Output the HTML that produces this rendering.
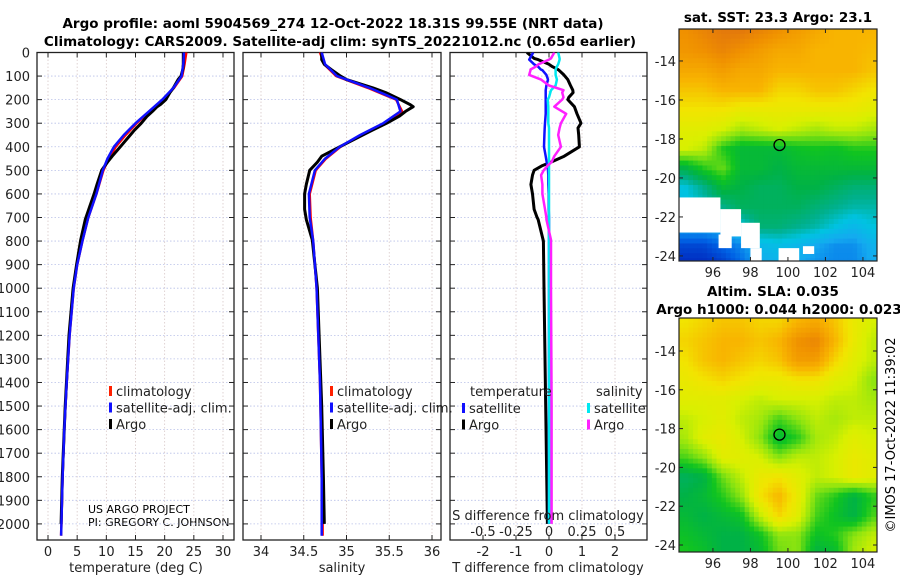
<!DOCTYPE html>
<html><head><meta charset="utf-8">
<style>
html,body{margin:0;padding:0;background:#fff;}
svg{display:block;font-family:"DejaVu Sans","Liberation Sans",sans-serif;}
</style></head>
<body>
<svg id="fig" width="900" height="580" viewBox="0 0 900 580" xmlns="http://www.w3.org/2000/svg">
<text x="333" y="28" font-size="13.5" font-weight="bold" text-anchor="middle">Argo profile: aoml 5904569_274 12-Oct-2022 18.31S 99.55E (NRT data)</text>
<text x="340" y="46" font-size="13.5" font-weight="bold" text-anchor="middle">Climatology: CARS2009. Satellite-adj clim: synTS_20221012.nc (0.65d earlier)</text>
<text x="778" y="22" font-size="13.5" font-weight="bold" text-anchor="middle">sat. SST: 23.3 Argo: 23.1</text>
<text x="773" y="296" font-size="13.5" font-weight="bold" text-anchor="middle">Altim. SLA: 0.035</text>
<text x="779" y="314" font-size="13.5" font-weight="bold" text-anchor="middle">Argo h1000: 0.044 h2000: 0.023</text>
<text transform="translate(895,435) rotate(-90)" font-size="13" text-anchor="middle">©IMOS 17-Oct-2022 11:39:02</text>
<text x="88" y="513" font-size="11">US ARGO PROJECT</text>
<text x="88" y="526" font-size="11">PI: GREGORY C. JOHNSON</text>
<g id="layer"></g>
</svg>
<script>
// ---------- data ----------
const depthClim = [0,50,100,150,200,250,300,350,400,450,500,600,700,800,900,1000,1200,1400,1600,1800,2000,2050];
const tempClim  = [23.7,23.4,23.0,21.6,19.7,17.4,15.2,13.3,11.6,10.4,9.5,8.3,6.9,5.9,5.0,4.4,3.7,3.2,2.8,2.5,2.3,2.25];
const tempSat   = [23.3,23.2,22.9,21.5,19.6,17.3,15.0,13.0,11.3,10.2,9.4,8.3,6.9,5.9,5.0,4.4,3.7,3.2,2.8,2.5,2.3,2.25];
const salClim   = [34.69,34.74,34.88,35.25,35.58,35.65,35.44,35.17,34.93,34.76,34.64,34.57,34.58,34.61,34.63,34.65,34.67,34.69,34.70,34.71,34.72,34.72];
const salSat    = [34.71,34.75,34.89,35.27,35.59,35.63,35.43,35.16,34.92,34.75,34.63,34.56,34.57,34.61,34.63,34.65,34.67,34.69,34.70,34.71,34.71,34.71];
const depthArgo = [0,30,50,72,100,115,150,170,200,220,230,250,270,300,330,350,400,440,465,500,560,600,665,708,795,900,1000,1200,1500,1800,2000];
const tempArgo  = [23.2,23.2,23.2,23.1,22.8,22.3,21.5,20.9,20.2,19.3,18.7,17.9,17.0,16.0,14.8,14.1,12.4,11.0,10.2,9.2,8.4,7.9,7.0,6.4,5.6,4.9,4.3,3.6,2.95,2.45,2.25];
const salArgo   = [34.71,34.71,34.74,34.82,34.93,35.0,35.31,35.46,35.63,35.74,35.78,35.69,35.62,35.47,35.30,35.19,34.92,34.71,34.66,34.57,34.53,34.51,34.51,34.53,34.60,34.63,34.66,34.68,34.71,34.73,34.74];
const depthDiff = [0,25,30,50,60,72,75,95,115,140,160,170,190,200,230,260,300,320,350,400,440,465,480,500,520,560,600,665,700,708,795,800,1000,1500,2000];
const dTArgo    = [-0.67,-0.45,-0.33,0.0,0.1,0.27,0.3,0.45,0.57,0.65,0.72,0.73,0.6,0.57,0.77,0.85,0.97,0.88,0.9,0.92,0.46,0.06,-0.2,-0.45,-0.5,-0.55,-0.5,-0.45,-0.36,-0.33,-0.18,-0.17,-0.15,-0.1,-0.05];
const dTSat     = [-0.48,-0.58,-0.6,-0.45,-0.33,-0.25,-0.2,-0.08,-0.03,-0.08,-0.1,-0.1,-0.1,-0.1,-0.1,-0.1,-0.12,-0.13,-0.14,-0.15,-0.1,-0.07,-0.05,-0.03,-0.02,-0.02,-0.01,-0.01,0,0,0,0,0,0,0];
const dSArgo    = [0.04,0.015,0.0,-0.08,-0.1,-0.14,-0.14,-0.15,-0.06,0.0,0.11,0.1,0.11,0.1,0.04,0.13,0.09,0.08,0.07,0.09,0.04,0.02,-0.01,-0.04,-0.06,-0.05,-0.05,-0.03,-0.02,-0.02,0.015,0.015,0.015,0.02,0.02];
const dSSat     = [0.07,0.08,0.08,0.07,0.06,0.05,0.05,0.05,0.06,0.05,0.015,0.01,0.0,-0.01,-0.005,-0.005,-0.005,0,0,0,0,0,0,0,0,0,0,0,0,0,0,0,0,0,0];
const depthTicks = [0,100,200,300,400,500,600,700,800,900,1000,1100,1200,1300,1400,1500,1600,1700,1800,1900,2000];
const tempTicks = [0,5,10,15,20,25,30];
const salTicks = [34,34.5,35,35.5,36];
const salTickLabels = ["34","34.5","35","35.5","36"];
const dTTicks = [-2,-1,0,1,2];
const dSTicks = [-0.5,-0.25,0,0.25,0.5];
const dSTickLabels = ["-0.5","-0.25","0","0.25","0.5"];
const lonTicks = [96,98,100,102,104];
const latTicks = [-14,-16,-18,-20,-22,-24];
const argoLon = 99.55, argoLat = -18.31;
const sstGrid = [
[0.86,0.88,0.9,0.9,0.88,0.86,0.84,0.82,0.8,0.8,0.8],
[0.85,0.86,0.88,0.86,0.84,0.82,0.82,0.8,0.8,0.8,0.79],
[0.82,0.82,0.84,0.82,0.82,0.8,0.8,0.8,0.8,0.8,0.78],
[0.78,0.78,0.8,0.8,0.8,0.76,0.76,0.78,0.78,0.76,0.74],
[0.74,0.74,0.74,0.72,0.72,0.72,0.72,0.72,0.72,0.72,0.7],
[0.7,0.7,0.68,0.64,0.66,0.68,0.66,0.64,0.66,0.66,0.64],
[0.68,0.66,0.56,0.52,0.52,0.52,0.54,0.55,0.54,0.56,0.56],
[0.5,0.56,0.6,0.52,0.52,0.5,0.52,0.52,0.52,0.52,0.52],
[0.38,0.44,0.52,0.5,0.48,0.48,0.5,0.5,0.48,0.46,0.46],
[0.36,0.4,0.44,0.48,0.48,0.48,0.48,0.46,0.44,0.42,0.42],
[0.3,0.3,0.32,0.38,0.46,0.46,0.44,0.42,0.38,0.34,0.38],
[0.15,0.15,0.2,0.25,0.34,0.36,0.34,0.3,0.26,0.26,0.32],
[0.1,0.1,0.12,0.2,0.3,0.32,0.3,0.26,0.25,0.25,0.3]];
const sstMissing = [[94.1,96.4,-21.0,-22.8],[96.4,97.5,-21.6,-23.0],[97.5,98.5,-22.3,-23.6],[96.3,97.0,-22.9,-23.6],[98.0,98.6,-23.6,-24.4],[99.5,100.6,-23.6,-24.4],[100.8,101.4,-23.5,-23.9]];
const slaGrid = [
[0.74,0.76,0.78,0.78,0.76,0.76,0.8,0.82,0.78,0.72,0.68],
[0.76,0.78,0.8,0.8,0.78,0.8,0.86,0.88,0.8,0.72,0.66],
[0.74,0.78,0.8,0.78,0.76,0.78,0.84,0.84,0.76,0.7,0.66],
[0.72,0.74,0.76,0.74,0.72,0.72,0.74,0.74,0.7,0.68,0.62],
[0.7,0.7,0.7,0.68,0.66,0.68,0.68,0.68,0.66,0.66,0.64],
[0.66,0.68,0.7,0.66,0.64,0.58,0.62,0.66,0.64,0.66,0.66],
[0.64,0.7,0.72,0.68,0.62,0.52,0.56,0.64,0.66,0.7,0.68],
[0.58,0.62,0.7,0.7,0.68,0.62,0.66,0.66,0.68,0.72,0.7],
[0.48,0.5,0.6,0.66,0.72,0.74,0.7,0.66,0.68,0.72,0.7],
[0.5,0.52,0.56,0.62,0.74,0.8,0.72,0.6,0.56,0.5,0.56],
[0.52,0.5,0.52,0.54,0.66,0.76,0.7,0.58,0.54,0.5,0.58],
[0.54,0.52,0.5,0.5,0.54,0.62,0.62,0.54,0.56,0.62,0.66],
[0.56,0.54,0.5,0.5,0.52,0.6,0.62,0.5,0.52,0.64,0.68]];

// ---------- helpers ----------
const NS = "http://www.w3.org/2000/svg";
const layer = document.getElementById('layer');
function mk(tag, attrs, parent) {
  const e = document.createElementNS(NS, tag);
  for (const k in attrs) e.setAttribute(k, attrs[k]);
  (parent || layer).appendChild(e);
  return e;
}
const yTop = 52.5, yPer = 23.57/100;
function yDepth(d) { return yTop + d * yPer; }
const yBot = 540;
function linScale(v0, p0, v1, p1) { return v => p0 + (v - v0) * (p1 - p0) / (v1 - v0); }
const xTemp = linScale(0, 48, 30, 223);
const xSal = linScale(34, 261, 36, 432);
const xDT = linScale(0, 549, 2, 615);
const xDS = linScale(0, 549, 0.5, 615);

function panelFrame(name, x0, x1, xticksPx) {
  const g = mk('g', {});
  
  
  depthTicks.forEach(d => {
    const y = yDepth(d);
    const l = mk('line', {x1:x0, x2:x1, y1:y, y2:y, stroke:'#b8c0e8', 'stroke-width':0.8, 'stroke-dasharray':'1.5,2'}, g);
    
    
    mk('line', {x1:x0, x2:x0+5, y1:y, y2:y, stroke:'#222'}, g);
    mk('line', {x1:x1-5, x2:x1, y1:y, y2:y, stroke:'#222'}, g);
  });
  xticksPx.forEach(x => {
    const l = mk('line', {x1:x, x2:x, y1:yTop, y2:yBot, stroke:'#d8c8c8', 'stroke-width':0.8, 'stroke-dasharray':'1.5,2'}, g);
    
    
    mk('line', {x1:x, x2:x, y1:yTop, y2:yTop+5, stroke:'#222'}, g);
    mk('line', {x1:x, x2:x, y1:yBot-5, y2:yBot, stroke:'#222'}, g);
  });
  const r = mk('rect', {x:x0, y:yTop, width:x1-x0, height:yBot-yTop, fill:'none', stroke:'#222', 'stroke-width':1.3}, g);
  
  
  return g;
}
function polyline(xs, ds, xf, color, w, name, clip) {
  const pts = ds.map((d, i) => xf(xs[i]).toFixed(1) + ',' + yDepth(d).toFixed(1)).join(' ');
  const p = mk('polyline', {points: pts, fill:'none', stroke: color, 'stroke-width': w, 'stroke-linejoin':'round', 'clip-path': clip});
  
  
  return p;
}
function text(str, x, y, opts, name) {
  const t = mk('text', Object.assign({x:x, y:y, 'font-size':13, fill:'#222'}, opts || {}));
  t.textContent = str;
  
  
  return t;
}
function legend(items, x, y0, name) {
  items.forEach((it, i) => {
    const y = y0 + i * 16.5;
    const m = mk('rect', {x:x, y:y-10, width:3, height:10, fill:it[1]});
    
    
    text(it[0], x + 7, y, {'font-size':13}, name + '-label');
  });
}
const defs = mk('defs', {});
[['c1',37,234],['c2',243,441],['c3',450,647]].forEach(c => {
  const cp = mk('clipPath', {id:c[0]}, defs);
  mk('rect', {x:c[1], y:yTop, width:c[2]-c[1], height:yBot-yTop}, cp);
});

// ---------- panel 1: temperature ----------
panelFrame('temperature-panel', 37, 234, tempTicks.map(xTemp));
depthTicks.forEach(d => text(String(d), 30, yDepth(d) + 5, {'text-anchor':'end'}, 'depth-tick-label'));
tempTicks.forEach(t => text(String(t), xTemp(t), 556, {'text-anchor':'middle'}, 'temp-tick-label'));
text('temperature (deg C)', 136, 572, {'text-anchor':'middle'}, 'temp-axis-title');
polyline(tempClim, depthClim, xTemp, '#ff0000', 2.5, 'temp-climatology-line', 'url(#c1)');
polyline(tempArgo, depthArgo, xTemp, '#000', 3, 'temp-argo-line', 'url(#c1)');
polyline(tempSat, depthClim, xTemp, '#1010ff', 2.5, 'temp-satellite-line', 'url(#c1)');
legend([['climatology','#ff2000'],['satellite-adj. clim.','#1010ff'],['Argo','#000']], 109, 396, 'temp-legend');

// ---------- panel 2: salinity ----------
panelFrame('salinity-panel', 243, 441, salTicks.map(xSal));
salTicks.forEach((s, i) => text(salTickLabels[i], xSal(s), 556, {'text-anchor':'middle'}, 'sal-tick-label'));
text('salinity', 342, 572, {'text-anchor':'middle'}, 'sal-axis-title');
polyline(salClim, depthClim, xSal, '#ff0000', 2.5, 'sal-climatology-line', 'url(#c2)');
polyline(salArgo, depthArgo, xSal, '#000', 3, 'sal-argo-line', 'url(#c2)');
polyline(salSat, depthClim, xSal, '#1010ff', 2.5, 'sal-satellite-line', 'url(#c2)');
legend([['climatology','#ff2000'],['satellite-adj. clim.','#1010ff'],['Argo','#000']], 330, 396, 'sal-legend');

// ---------- panel 3: differences ----------
panelFrame('difference-panel', 450, 647, dTTicks.map(xDT));
dTTicks.forEach(t => text(String(t), xDT(t), 556, {'text-anchor':'middle'}, 'dT-tick-label'));
text('T difference from climatology', 548, 572, {'text-anchor':'middle'}, 'dT-axis-title');
polyline(dTArgo, depthDiff, xDT, '#000', 3, 'dT-argo-line', 'url(#c3)');
polyline(dTSat, depthDiff, xDT, '#1010ff', 2.5, 'dT-satellite-line', 'url(#c3)');
polyline(dSSat, depthDiff, xDS, '#00e8f0', 2.5, 'dS-satellite-line', 'url(#c3)');
polyline(dSArgo, depthDiff, xDS, '#ff20ff', 2.5, 'dS-argo-line', 'url(#c3)');
text('temperature', 470, 396, {'font-size':13}, 'dT-legend-header');
text('salinity', 596, 396, {'font-size':13}, 'dS-legend-header');
legend([['satellite','#1010ff'],['Argo','#000']], 462, 413, 'dT-legend');
legend([['satellite','#00e8f0'],['Argo','#ff20ff']], 587, 413, 'dS-legend');
text('S difference from climatology', 548, 520, {'text-anchor':'middle'}, 'dS-axis-title');
dSTicks.forEach((s, i) => text(dSTickLabels[i], xDS(s), 536, {'text-anchor':'middle'}, 'dS-tick-label'));

// ---------- maps ----------
const cmapStops = [[0.0,[0,20,150]],[0.1,[0,40,190]],[0.2,[0,100,230]],[0.3,[20,170,240]],[0.38,[0,195,225]],[0.44,[0,176,140]],[0.5,[0,178,70]],[0.55,[16,196,32]],[0.62,[140,228,16]],[0.68,[216,240,0]],[0.74,[242,228,0]],[0.8,[248,180,0]],[0.86,[240,145,0]],[0.92,[222,110,16]],[1.0,[190,70,10]]];
function cmap(v) {
  v = Math.max(0, Math.min(1, v));
  for (let i = 1; i < cmapStops.length; i++) {
    if (v <= cmapStops[i][0]) {
      const a = cmapStops[i-1], b = cmapStops[i], t = (v - a[0]) / (b[0] - a[0]);
      return 'rgb(' + a[1].map((c, k) => Math.round(c + (b[1][k] - c) * t)).join(',') + ')';
    }
  }
  return 'rgb(190,70,10)';
}
function gridVal(grid, lon, lat) {
  let c = lon - 94.5, r = -12.5 - lat;
  c = Math.max(0, Math.min(10, c)); r = Math.max(0, Math.min(12, r));
  const c0 = Math.min(9, Math.floor(c)), r0 = Math.min(11, Math.floor(r));
  const fc = c - c0, fr = r - r0;
  return grid[r0][c0]*(1-fc)*(1-fr) + grid[r0][c0+1]*fc*(1-fr) + grid[r0+1][c0]*(1-fc)*fr + grid[r0+1][c0+1]*fc*fr;
}
function drawMap(name, grid, missing, x0, x1, y0, y1, lonL, lonR, latT, latB) {
  const xL = linScale(lonL, x0, lonR, x1), yL = linScale(latT, y0, latB, y1);
  const g = mk('g', {});
  
  
  const step = 0.25;
  for (let lat = latT; lat > latB; lat -= step) {
    for (let lon = lonL; lon < lonR; lon += step) {
      const v = gridVal(grid, lon + step/2, lat - step/2);
      const xa = xL(lon), xb = Math.min(x1, xL(lon + step)), ya = yL(lat), yb = Math.min(y1, yL(lat - step));
      mk('rect', {x:xa.toFixed(2), y:ya.toFixed(2), width:(xb-xa+0.4).toFixed(2), height:(yb-ya+0.4).toFixed(2), fill:cmap(v)}, g);
    }
  }
  (missing || []).forEach(m => {
    const r = mk('rect', {x:xL(m[0]), y:yL(m[2]), width:xL(m[1])-xL(m[0]), height:yL(m[3])-yL(m[2]), fill:'#fff'}, g);
    
    
  });
  const fr = mk('rect', {x:x0, y:y0, width:x1-x0, height:y1-y0, fill:'none', stroke:'#222', 'stroke-width':1.2}, g);
  
  
  lonTicks.forEach(lo => {
    const x = xL(lo);
    mk('line', {x1:x, x2:x, y1:y0, y2:y0+4, stroke:'#222'}, g);
    mk('line', {x1:x, x2:x, y1:y1-4, y2:y1, stroke:'#222'}, g);
    text(String(lo), x, y1 + 16, {'text-anchor':'middle'}, 'lon-tick-label');
  });
  latTicks.forEach(la => {
    const y = yL(la);
    mk('line', {x1:x0, x2:x0+4, y1:y, y2:y, stroke:'#222'}, g);
    mk('line', {x1:x1-4, x2:x1, y1:y, y2:y, stroke:'#222'}, g);
    text(String(la), x0 - 3, y + 5, {'text-anchor':'end'}, 'lat-tick-label');
  });
  const c = mk('circle', {cx:xL(argoLon), cy:yL(argoLat), r:5.5, fill:'none', stroke:'#000', 'stroke-width':1.3}, g);
  
  
}
drawMap('sst-map', sstGrid, sstMissing, 679, 877, 29, 261, 94.19, 104.75, -12.36, -24.26);
drawMap('sla-map', slaGrid, [], 679, 877, 318, 552, 94.19, 104.75, -12.3, -24.36);
</script>
</body></html>
